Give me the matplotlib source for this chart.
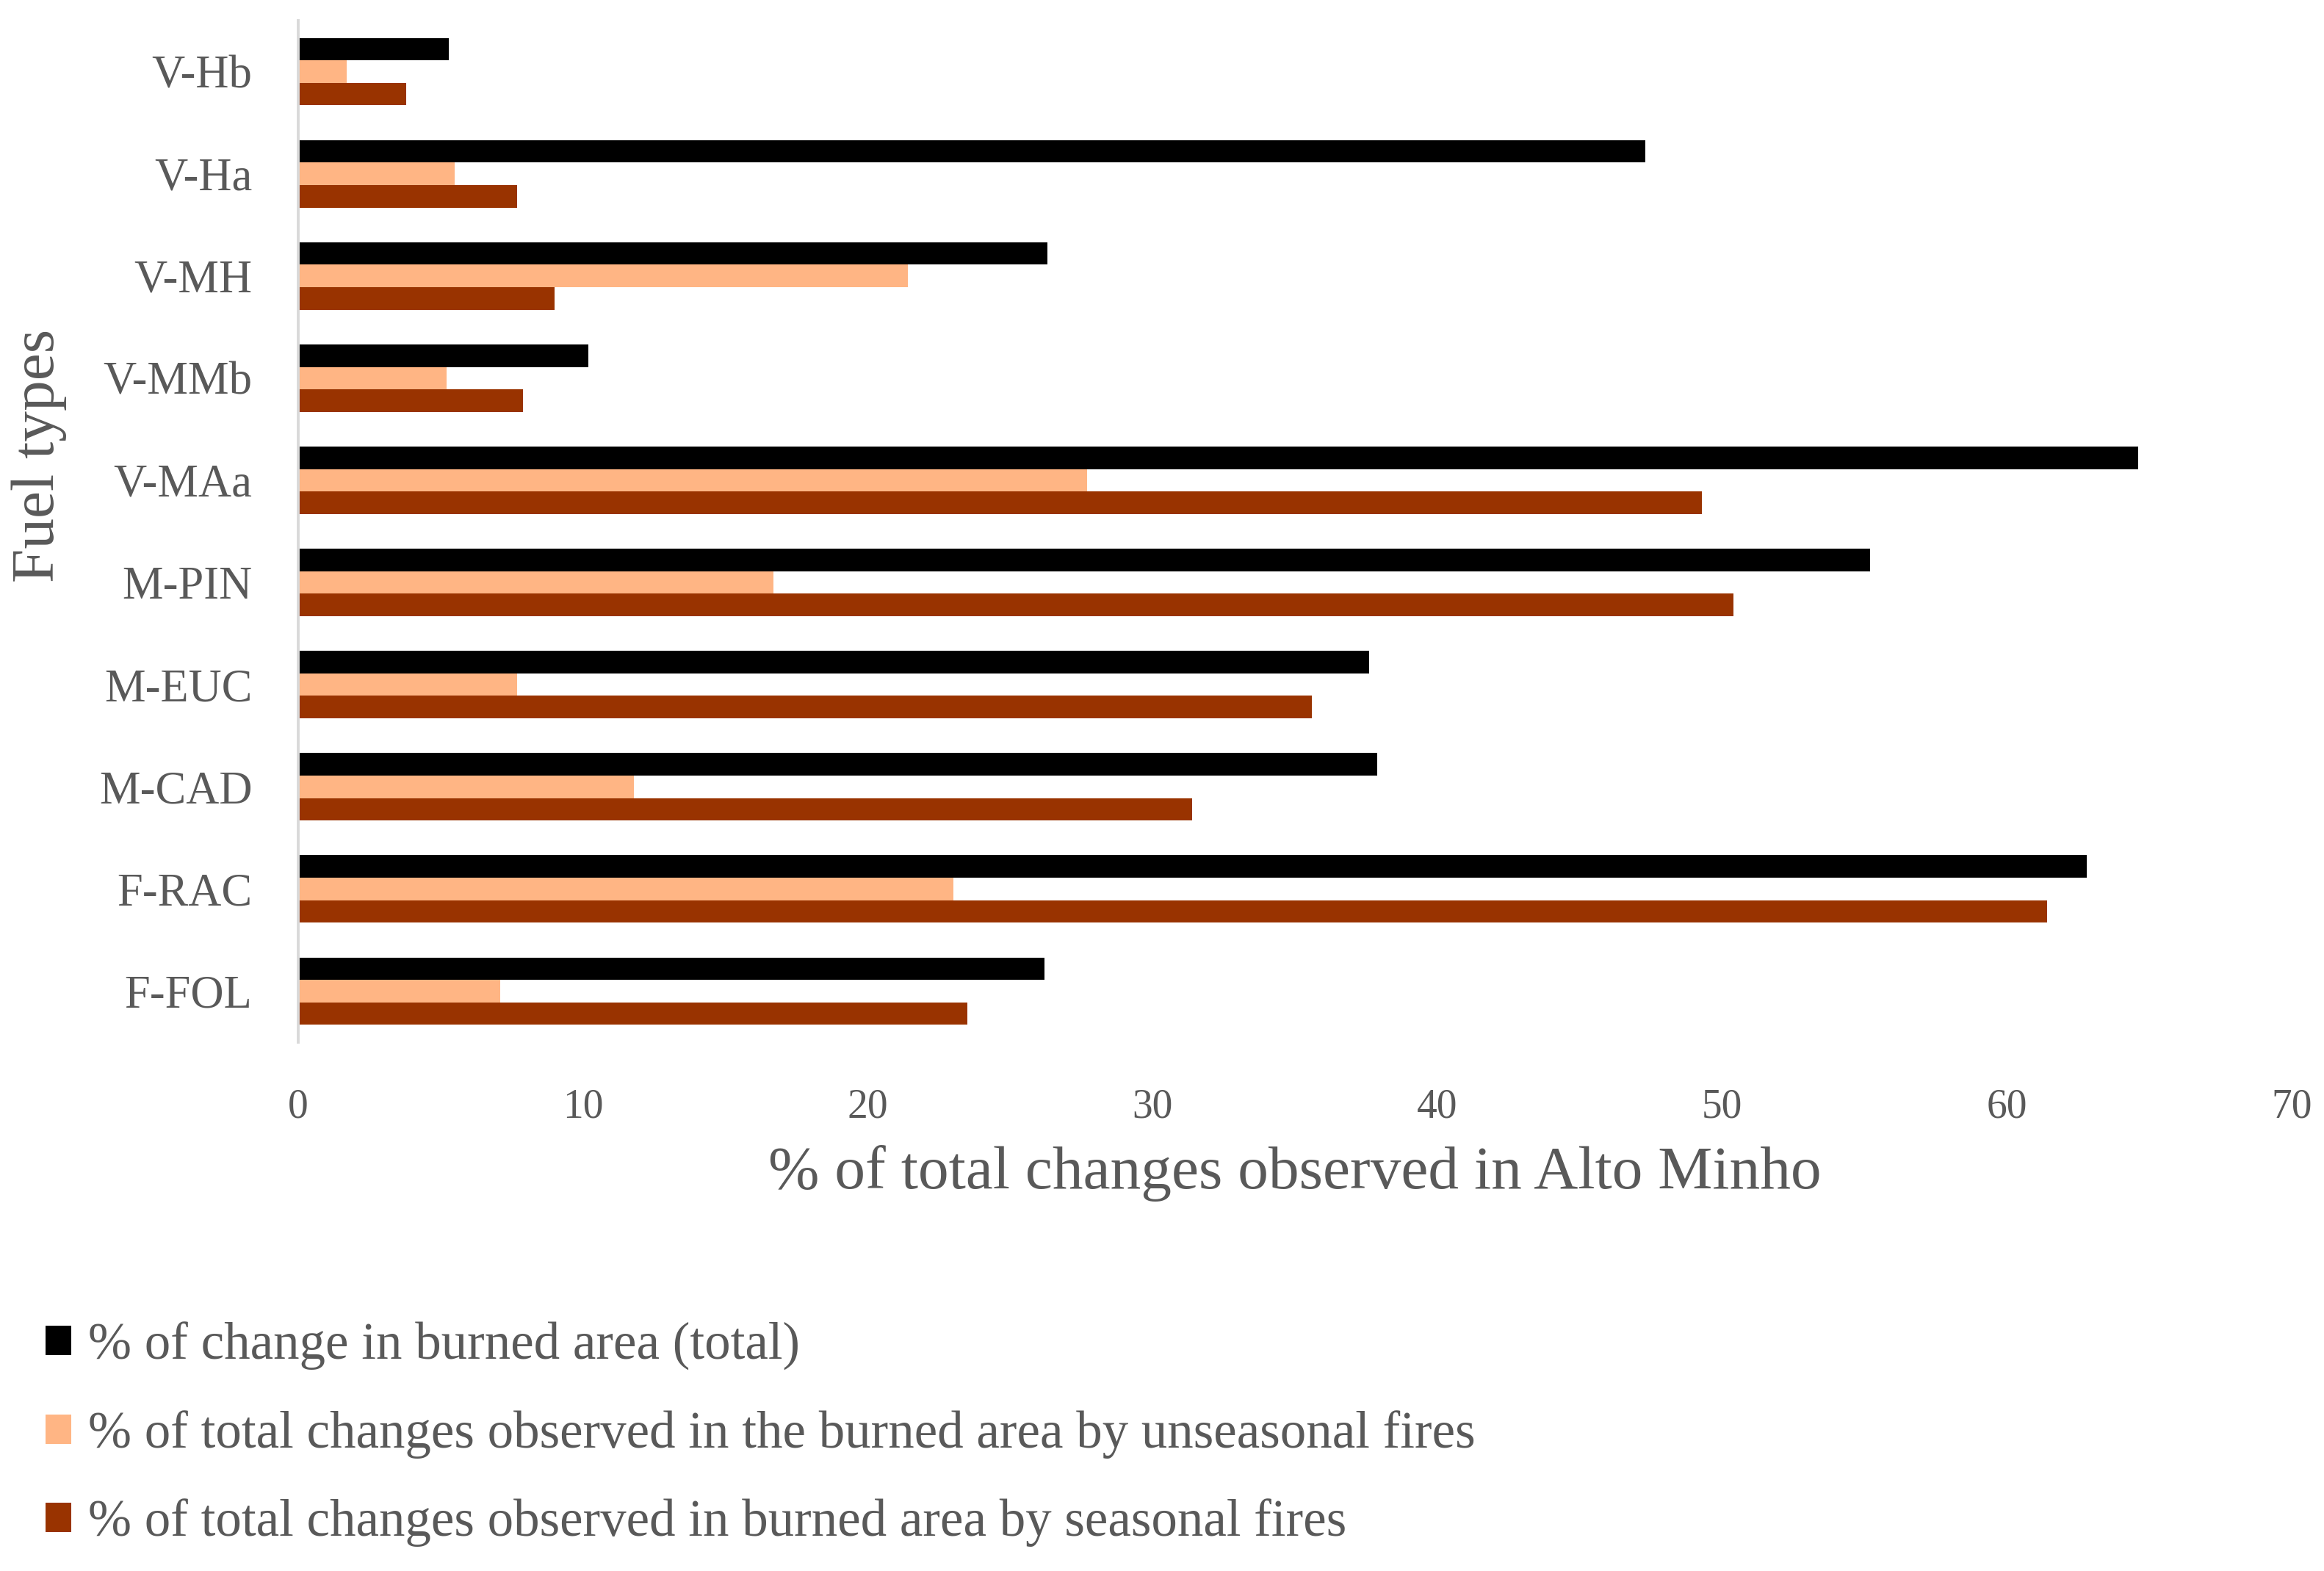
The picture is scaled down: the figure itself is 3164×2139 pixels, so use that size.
import numpy as np
import matplotlib
matplotlib.use("Agg")
import matplotlib.pyplot as plt

# fuel types, top to bottom as in the chart
fuel_types = ["V-Hb", "V-Ha", "V-MH", "V-MMb", "V-MAa",
              "M-PIN", "M-EUC", "M-CAD", "F-RAC", "F-FOL"]

# % of change in burned area (total)
total_change = [5.3, 47.3, 26.3, 10.2, 64.6, 55.2, 37.6, 37.9, 62.8, 26.2]
# % of total changes ... by unseasonal fires
unseasonal = [1.7, 5.5, 21.4, 5.2, 27.7, 16.7, 7.7, 11.8, 23.0, 7.1]
# % of total changes ... by seasonal fires
seasonal = [3.8, 7.7, 9.0, 7.9, 49.3, 50.4, 35.6, 31.4, 61.4, 23.5]

series_labels = [
    "% of change in burned area (total)",
    "% of total changes observed in the burned area by unseasonal fires",
    "% of total changes observed in burned area by seasonal fires",
]
colors = ["#000000", "#FFB584", "#993300"]

plt.rcParams["font.family"] = ["Liberation Serif", "DejaVu Serif"]
text_col = "#595959"

fig = plt.figure(figsize=(31.64, 21.39), dpi=100)
ax = fig.add_axes([0.1283, 0.3366, 0.8578, 0.6503])

y = np.arange(len(fuel_types))
h = 0.22
handles = []
for k, (vals, col, lab) in enumerate(zip([total_change, unseasonal, seasonal], colors, series_labels)):
    b = ax.barh(y + (k - 1) * h, vals, height=h, color=col, label=lab)
    handles.append(b)

ax.set_ylim(len(fuel_types) - 0.5, -0.5)
ax.set_xlim(0, 70)
ax.set_xticks(range(0, 71, 10))
ax.set_yticks(y)
ax.set_yticklabels(fuel_types)

for s in ["top", "right", "bottom"]:
    ax.spines[s].set_visible(False)
ax.spines["left"].set_color("#D9D9D9")
ax.spines["left"].set_linewidth(2.8)

ax.tick_params(axis="x", length=0, pad=45, labelsize=40, labelcolor=text_col)
ax.tick_params(axis="y", length=0, pad=45, labelsize=45, labelcolor=text_col)

ax.set_xlabel("% of total changes observed in Alto Minho", fontsize=60, color=text_col, labelpad=18)
fig.text(0.0168, 0.71, "Fuel types", rotation=90, fontsize=60, color=text_col,
         ha="center", va="center")

fig.legend(handles=handles, labels=series_labels, loc="center left",
           bbox_to_anchor=(0.0196, 0.087), frameon=False, fontsize=51,
           labelcolor=text_col, handlelength=0.5, handleheight=0.5,
           handletextpad=0.32, labelspacing=0.77, borderpad=0, borderaxespad=0)

fig.savefig("out.png", dpi=100)
